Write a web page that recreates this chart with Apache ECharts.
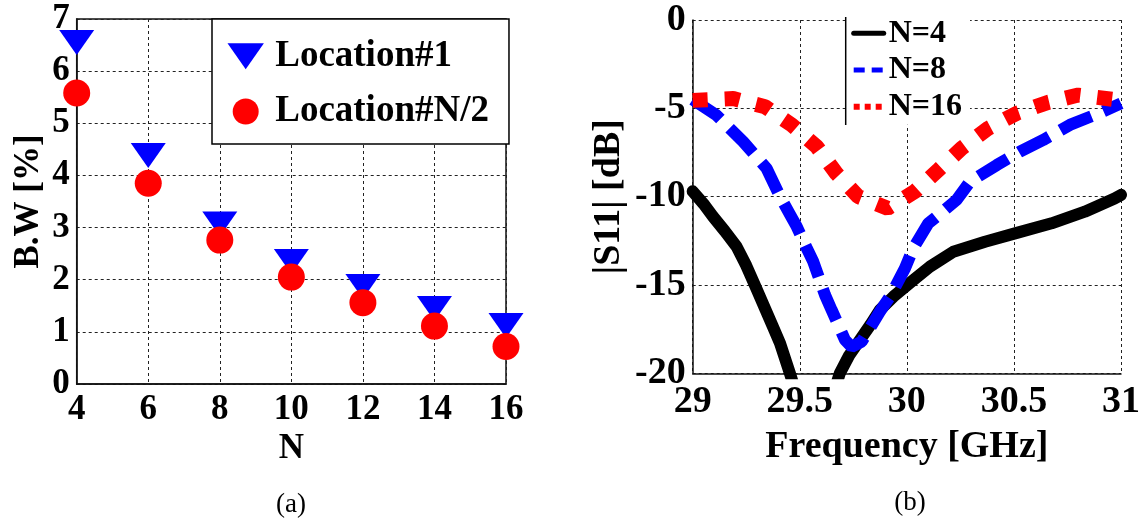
<!DOCTYPE html>
<html>
<head>
<meta charset="utf-8">
<script src="https://cdn.jsdelivr.net/npm/echarts@6/dist/echarts.min.js"></script>
<style>
  html, body { margin: 0; padding: 0; background: #fff; }
  #chart { width: 1145px; height: 523px; }
</style>
</head>
<body>
<div id="chart"></div>
<script>
// (a) bandwidth versus number of elements N
const nValues = [4, 6, 8, 10, 12, 14, 16];
const bwLocation1 = [6.55, 4.38, 3.07, 2.35, 1.87, 1.45, 1.12];
const bwLocationHalf = [5.58, 3.85, 2.76, 2.05, 1.56, 1.11, 0.72];

// (b) |S11| versus frequency for three array sizes
const freqN4 = [29.0, 29.05, 29.095, 29.15, 29.205, 29.25, 29.30, 29.34, 29.376, 29.408, 29.454, 29.5, 29.57, 29.64, 29.687, 29.73, 29.781, 29.83, 29.874, 29.937, 30.03, 30.108, 30.217, 30.365, 30.505, 30.676, 30.831, 30.97, 31.0];
const s11N4 = [-9.7, -10.4, -11.13, -11.95, -12.83, -13.9, -15.28, -16.4, -17.4, -18.3, -20.0, -21.8, -23.5, -21.8, -20.0, -19.0, -18.11, -17.25, -16.42, -15.66, -14.72, -13.96, -13.12, -12.55, -12.08, -11.51, -10.85, -10.1, -9.9];

const freqN8 = [29.0, 29.11, 29.236, 29.345, 29.408, 29.454, 29.486, 29.532, 29.563, 29.618, 29.649, 29.711, 29.742, 29.789, 29.874, 29.926, 29.991, 30.03, 30.10, 30.139, 30.232, 30.295, 30.42, 30.528, 30.637, 30.761, 30.897, 31.0];
const s11N8 = [-4.5, -5.38, -6.89, -8.40, -10.0, -11.0, -11.7, -12.9, -13.68, -15.57, -16.42, -18.11, -18.5, -18.21, -16.51, -15.57, -14.06, -12.92, -11.51, -11.13, -10.19, -9.15, -8.21, -7.45, -6.79, -5.94, -5.28, -4.72];

const freqN16 = [29.0, 29.19, 29.338, 29.462, 29.579, 29.672, 29.773, 29.91, 30.038, 30.147, 30.256, 30.38, 30.513, 30.66, 30.8, 30.97, 31.0];
const s11N16 = [-4.55, -4.45, -4.91, -5.94, -7.17, -8.7, -10.0, -10.66, -9.7, -8.49, -7.26, -6.13, -5.28, -4.66, -4.25, -4.5, -4.6];

const FONT = '"Liberation Serif", "Times New Roman", serif';
const TRIANGLE_DOWN = 'path://M0,0L35,0L17.5,25Z';

const pairs = (xs, ys) => xs.map((x, i) => [x, ys[i]]);
const boldText = (size) => ({ fontFamily: FONT, fontWeight: 'bold', fontSize: size, color: '#000' });
const gridDash = { color: '#222', type: [3, 3], width: 1 };
const noSymbol = { opacity: 0 };

const chart = echarts.init(document.getElementById('chart'));

chart.setOption({
  animation: false,
  backgroundColor: '#fff',
  textStyle: { fontFamily: FONT },
  grid: [
    { left: 76.7, top: 19, width: 429.3, height: 365, show: true, borderColor: '#111', borderWidth: 1.5, outerBoundsMode: 'none', containLabel: false },
    { left: 692.7, top: 20, width: 428.3, height: 353.3, outerBoundsMode: 'none', containLabel: false }
  ],
  xAxis: [
    {
      gridIndex: 0, type: 'value', min: 4, max: 16, interval: 2,
      name: 'N', nameLocation: 'middle', nameGap: 43, nameTextStyle: boldText(35),
      axisLine: { show: true, onZero: false, lineStyle: { color: '#111', width: 1.5 } },
      axisTick: { show: false },
      axisLabel: Object.assign({ margin: 8 }, boldText(35)),
      splitLine: { show: true, lineStyle: gridDash }
    },
    {
      gridIndex: 1, type: 'value', min: 29, max: 31, interval: 0.5,
      name: 'Frequency [GHz]', nameLocation: 'middle', nameGap: 55, nameTextStyle: boldText(38),
      axisLine: { show: true, onZero: false, lineStyle: { color: '#111', width: 1.5 } },
      axisTick: { show: false },
      axisLabel: Object.assign({ margin: 10 }, boldText(38)),
      splitLine: { show: true, lineStyle: gridDash }
    }
  ],
  yAxis: [
    {
      gridIndex: 0, type: 'value', min: 0, max: 7, interval: 1,
      name: 'B.W [%]', nameLocation: 'middle', nameGap: 30, nameRotate: 90, nameTextStyle: boldText(35),
      axisLine: { show: true, onZero: false, lineStyle: { color: '#111', width: 1.5 } },
      axisTick: { show: false },
      axisLabel: Object.assign({ margin: 7 }, boldText(35)),
      splitLine: { show: true, lineStyle: gridDash }
    },
    {
      gridIndex: 1, type: 'value', min: -20, max: 0, interval: 5,
      name: '|S11| [dB]', nameLocation: 'middle', nameGap: 65, nameRotate: 90, nameTextStyle: boldText(38),
      axisLine: { show: true, onZero: false, lineStyle: { color: '#111', width: 1.5 } },
      axisTick: { show: false },
      axisLabel: Object.assign({ margin: 7 }, boldText(38)),
      splitLine: { show: true, lineStyle: gridDash }
    }
  ],
  legend: [
    {
      left: 212, top: 19, orient: 'vertical',
      data: [
        { name: 'Location#1', icon: TRIANGLE_DOWN },
        { name: 'Location#N/2', icon: 'circle' }
      ],
      itemWidth: 49, itemHeight: 26, itemGap: 18.2,
      padding: [18.8, 20, 14, 15.5],
      borderColor: '#000', borderWidth: 1.5, backgroundColor: '#fff',
      selectedMode: false,
      textStyle: boldText(37)
    },
    {
      left: 845.7, top: 17.3, orient: 'vertical',
      data: [
        { name: 'N=4', itemStyle: noSymbol, lineStyle: { width: 5, type: 'solid', opacity: 1 } },
        { name: 'N=8', itemStyle: noSymbol, lineStyle: { width: 5, type: [11, 7], opacity: 1 } },
        { name: 'N=16', itemStyle: noSymbol, lineStyle: { width: 6, type: [6, 5], opacity: 1 } }
      ],
      itemWidth: 30, itemHeight: 14, itemGap: 4.7,
      padding: [0, 8, 2, 5],
      backgroundColor: '#fff',
      selectedMode: false,
      textStyle: boldText(32)
    }
  ],
  graphic: [
    { type: 'line', shape: { x1: 845.7, y1: 17, x2: 845.7, y2: 125 }, style: { stroke: '#000', lineWidth: 1.5 }, z: 100 },
    { type: 'text', x: 291, y: 505, style: { text: '(a)', fontFamily: FONT, fontSize: 27, fill: '#000', align: 'center', verticalAlign: 'middle' } },
    { type: 'text', x: 910, y: 503, style: { text: '(b)', fontFamily: FONT, fontSize: 27, fill: '#000', align: 'center', verticalAlign: 'middle' } }
  ],
  series: [
    {
      name: 'Location#1', type: 'scatter', xAxisIndex: 0, yAxisIndex: 0,
      symbol: TRIANGLE_DOWN, symbolSize: [35, 25],
      itemStyle: { color: '#0000FF', opacity: 1 },
      data: pairs(nValues, bwLocation1), z: 3
    },
    {
      name: 'Location#N/2', type: 'scatter', xAxisIndex: 0, yAxisIndex: 0,
      symbol: 'circle', symbolSize: 27,
      itemStyle: { color: '#FF0000', opacity: 1 },
      data: pairs(nValues, bwLocationHalf), z: 4
    },
    {
      name: 'N=4', type: 'line', xAxisIndex: 1, yAxisIndex: 1,
      symbol: 'none', smooth: false, clip: true,
      lineStyle: { color: '#000', width: 12, join: 'round', cap: 'round' },
      itemStyle: { color: '#000' },
      data: pairs(freqN4, s11N4), z: 2
    },
    {
      name: 'N=8', type: 'line', xAxisIndex: 1, yAxisIndex: 1,
      symbol: 'none', smooth: false, clip: true,
      lineStyle: { color: '#0000FF', width: 12, type: [34, 13] },
      itemStyle: { color: '#0000FF' },
      data: pairs(freqN8, s11N8), z: 3
    },
    {
      name: 'N=16', type: 'line', xAxisIndex: 1, yAxisIndex: 1,
      symbol: 'none', smooth: false, clip: true,
      lineStyle: { color: '#FF0000', width: 15, type: [15, 17] },
      itemStyle: { color: '#FF0000' },
      data: pairs(freqN16, s11N16), z: 4
    }
  ]
});
</script>
</body>
</html>
